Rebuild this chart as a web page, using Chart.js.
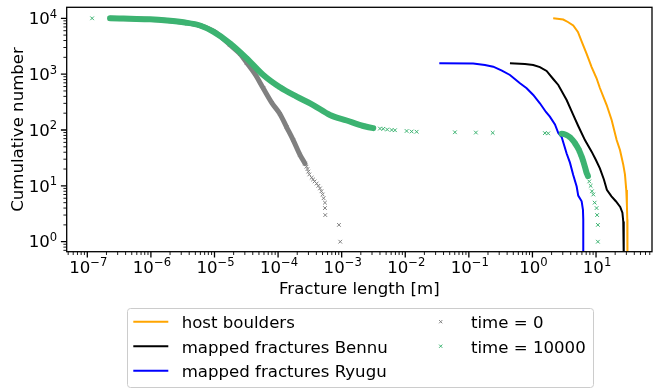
<!DOCTYPE html>
<html>
<head>
<meta charset="utf-8">
<script src="https://cdn.jsdelivr.net/npm/chart.js@4.4.1/dist/chart.umd.min.js"></script>
<style>
  html, body { margin: 0; padding: 0; background: #fff; }
</style>
</head>
<body>
<canvas id="myChart" width="653" height="388"></canvas>
<script>
// ---- data ----
const xTickExps = [-7, -6, -5, -4, -3, -2, -1, 0, 1];
const yTickExps = [0, 1, 2, 3, 4];
const xRange = [4.74e-8, 75.9];
const yRange = [0.662, 15740];

const hostX = [2.12, 3.05, 3.61, 4.38, 5.19, 6.00, 7.12, 8.53, 10.2, 11.5, 14.7, 17.6, 21.1, 23.8, 26.8, 28.5, 29.9, 30.6, 31.0, 31.2, 31.2];
const hostN = [10000, 9520, 8590, 7430, 5690, 3760, 2300, 1340, 843, 565, 280, 151, 66, 44, 24, 16, 8.4, 4.5, 2.5, 1, 0.5];

const bennuX = [0.443, 0.762, 1.03, 1.31, 1.67, 2.12, 2.55, 3.45, 4.38, 5.25, 6.69, 8.53, 9.96, 11.5, 13.3, 14.8, 17.5, 20.5, 24.0, 26.0, 26.8, 27.3, 27.3];
const bennuN = [1560, 1520, 1460, 1340, 1140, 819, 640, 344, 186, 118, 66, 41, 29, 20.6, 13, 8.5, 6.5, 5.3, 4.2, 3.3, 2.3, 1, 0.5];

const ryuguX = [0.0343, 0.117, 0.179, 0.242, 0.331, 0.443, 0.637, 0.811, 1.03, 1.31, 1.63, 1.88, 2.26, 2.55, 2.88, 3.45, 3.89, 4.38, 4.96, 5.25, 5.94, 6.23, 6.30, 6.30, 6.30];
const ryuguN = [1560, 1550, 1460, 1360, 1160, 966, 686, 558, 424, 301, 210, 173, 126, 88, 75, 38, 26, 15.6, 9.7, 6.7, 5.3, 3.7, 2.5, 1, 0.5];

const time0X = [2.28e-7, 4.69e-7, 9.7e-7, 1.79e-6, 3.43e-6, 5.92e-6, 1.02e-5, 1.75e-5, 2.52e-5, 3.21e-5, 4.34e-5, 5.85e-5, 8.02e-5, 1.07e-4, 1.36e-4, 1.73e-4, 2.21e-4, 2.65e-4,
                2.8e-4, 2.9e-4, 2.99e-4, 3.1e-4, 3.37e-4, 3.55e-4, 3.75e-4, 4.04e-4, 4.3e-4, 4.56e-4, 4.8e-4, 5.02e-4, 5.2e-4, 5.46e-4, 5.46e-4, 5.52e-4, 9.06e-4, 9.5e-4];
const time0N = [10000, 9800, 9520, 9140, 8380, 7380, 5650, 3350, 2300, 1600, 1000, 558, 304, 194, 113, 66, 36, 25,
                22, 20, 18, 16, 14, 13, 12, 11, 10, 9, 8, 7, 6, 5, 4, 3, 2, 1];

const time1X = [1.19e-7, 2.28e-7, 4.69e-7, 9.7e-7, 1.79e-6, 3.43e-6, 5.92e-6, 9.57e-6, 1.75e-5, 3.21e-5, 5.85e-5, 1.07e-4, 1.96e-4, 3.57e-4, 6.54e-4, 1.2e-3, 2.19e-3, 3.14e-3,
                4.0e-3, 4.51e-3, 5.2e-3, 6.11e-3, 6.89e-3, 1.05e-2, 1.26e-2, 1.51e-2, 6.04e-2, 0.129, 0.237, 1.57, 1.77,
                2.88, 3.05, 3.45, 3.89, 4.29, 4.67, 5.06, 5.44, 5.79, 6.15, 6.46, 6.76, 7.12, 7.46, 7.82, 8.23, 8.63, 9.06, 9.52, 10.2, 10.4, 10.7, 10.7];
const time1N = [10000, 9999, 9800, 9600, 9140, 8410, 7430, 5760, 3570, 1920, 966, 582, 395, 280, 186, 148, 118, 108,
                106, 105, 102, 100, 99, 96, 94, 93, 91, 90, 89, 88, 87,
                86, 85, 81, 74, 66, 58, 50, 43, 36, 30, 25, 21, 17, 15, 12, 10, 8, 7, 5, 4, 3, 2, 1];

const FONT = '"DejaVu Sans", sans-serif';
const COLORS = { host: '#FFA500', bennu: '#000000', ryugu: '#0000FF', t0: '#808080', t1: '#3CB371' };

function toPoints(xs, ys) {
  return xs.map((x, i) => ({ x: x, y: ys[i] }));
}

// dense runs of markers are drawn as a thick band between the points
function bandColor(color, ranges) {
  return ctx => {
    const x0 = ctx.p0.parsed.x, x1 = ctx.p1.parsed.x;
    return ranges.some(r => x0 >= r[0] && x1 <= r[1]) ? color : 'rgba(0,0,0,0)';
  };
}

function scatterSet(label, xs, ys, color, width, ranges) {
  return {
    label: label,
    data: toPoints(xs, ys),
    showLine: true,
    cubicInterpolationMode: 'monotone',
    borderColor: color,
    borderWidth: width,
    borderCapStyle: 'round',
    borderJoinStyle: 'round',
    segment: { borderColor: bandColor(color, ranges) },
    pointStyle: 'crossRot',
    pointRadius: 2.6,
    pointBorderWidth: 1,
    pointBorderColor: color,
    pointBackgroundColor: color
  };
}

function lineSet(label, xs, ys, color) {
  return {
    label: label,
    data: toPoints(xs, ys),
    showLine: true,
    borderColor: color,
    borderWidth: 2,
    pointRadius: 0,
    tension: 0
  };
}

function drawPow(ctx, exp, x, y, align) {
  const base = '10';
  const sup = exp < 0 ? '\u2212' + Math.abs(exp) : String(exp);
  ctx.font = '16.6px ' + FONT;
  const wb = ctx.measureText(base).width;
  ctx.font = '11.6px ' + FONT;
  const ws = ctx.measureText(sup).width;
  const total = wb + ws;
  let left = align === 'center' ? x - total / 2 : x - total;
  ctx.textAlign = 'left';
  ctx.textBaseline = 'alphabetic';
  ctx.font = '16.6px ' + FONT;
  ctx.fillText(base, left, y);
  ctx.font = '11.6px ' + FONT;
  ctx.fillText(sup, left + wb, y - 6.3);
}

const axesPlugin = {
  id: 'mplAxes',
  afterDraw(chart) {
    const ctx = chart.ctx;
    const a = chart.chartArea;
    const xs = chart.scales.x, ys = chart.scales.y;
    ctx.save();
    ctx.fillStyle = '#000';
    ctx.strokeStyle = '#000';

    // minor ticks
    ctx.lineWidth = 0.9;
    ctx.beginPath();
    for (let e = -8; e <= 4; e++) {
      for (let m = 2; m <= 9; m++) {
        const v = m * Math.pow(10, e);
        if (v > xRange[0] && v < xRange[1]) {
          const px = xs.getPixelForValue(v);
          ctx.moveTo(px, a.bottom); ctx.lineTo(px, a.bottom + 3.3);
        }
        if (v > yRange[0] && v < yRange[1]) {
          const py = ys.getPixelForValue(v);
          ctx.moveTo(a.left, py); ctx.lineTo(a.left - 3.3, py);
        }
      }
    }
    ctx.stroke();

    // major ticks + labels
    ctx.lineWidth = 1.3;
    ctx.beginPath();
    xTickExps.forEach(e => {
      const px = xs.getPixelForValue(Math.pow(10, e));
      ctx.moveTo(px, a.bottom); ctx.lineTo(px, a.bottom + 5.8);
    });
    yTickExps.forEach(e => {
      const py = ys.getPixelForValue(Math.pow(10, e));
      ctx.moveTo(a.left, py); ctx.lineTo(a.left - 5.8, py);
    });
    ctx.stroke();

    xTickExps.forEach(e => {
      const px = xs.getPixelForValue(Math.pow(10, e));
      drawPow(ctx, e, px + 1, a.bottom + 21, 'center');
    });
    yTickExps.forEach(e => {
      const py = ys.getPixelForValue(Math.pow(10, e));
      drawPow(ctx, e, a.left - 9.5, py + 5.8, 'right');
    });

    // frame
    ctx.lineWidth = 1.3;
    ctx.strokeRect(a.left, a.top, a.right - a.left, a.bottom - a.top);

    // axis titles
    ctx.font = '16.6px ' + FONT;
    ctx.textAlign = 'center';
    ctx.textBaseline = 'alphabetic';
    ctx.fillText('Fracture length [m]', (a.left + a.right) / 2, 293.5);
    ctx.save();
    ctx.translate(22.5, (a.top + a.bottom) / 2);
    ctx.rotate(-Math.PI / 2);
    ctx.fillText('Cumulative number', 0, 0);
    ctx.restore();

    // legend (two columns, column-major like matplotlib)
    const lx = 127.5, ly = 308.5, lw = 466, lh = 79;
    ctx.beginPath();
    ctx.roundRect(lx, ly, lw, lh, 3);
    ctx.fillStyle = 'rgba(255,255,255,0.8)';
    ctx.fill();
    ctx.strokeStyle = '#cccccc';
    ctx.lineWidth = 1;
    ctx.stroke();

    const rowBase = [328.3, 352.8, 377.3];
    const items = [
      { col: 0, row: 0, ds: 2 },
      { col: 0, row: 1, ds: 3 },
      { col: 0, row: 2, ds: 4 },
      { col: 1, row: 0, ds: 1 },
      { col: 1, row: 1, ds: 0 }
    ];
    items.forEach(it => {
      const ds = chart.data.datasets[it.ds];
      const base = rowBase[it.row];
      const cy = base - 6.6;
      ctx.strokeStyle = ds.borderColor;
      if (it.col === 0) {
        ctx.lineWidth = 2;
        ctx.beginPath();
        ctx.moveTo(133.3, cy); ctx.lineTo(168.3, cy);
        ctx.stroke();
      } else {
        const mx = 440.7, r = 1.6;
        ctx.lineWidth = 1;
        ctx.beginPath();
        ctx.moveTo(mx - r, cy - r); ctx.lineTo(mx + r, cy + r);
        ctx.moveTo(mx - r, cy + r); ctx.lineTo(mx + r, cy - r);
        ctx.stroke();
      }
      ctx.fillStyle = '#000';
      ctx.font = '16.6px ' + FONT;
      ctx.textAlign = 'left';
      ctx.fillText(ds.label, it.col === 0 ? 181.7 : 471, base);
    });
    ctx.restore();
  }
};

const data = {
  datasets: [
    scatterSet('time = 10000', time1X, time1N, COLORS.t1, 6, [[2e-7, 3.2e-3], [2.8, 7.5]]),
    scatterSet('time = 0', time0X, time0N, COLORS.t0, 5, [[2e-7, 2.7e-4]]),
    lineSet('host boulders', hostX, hostN, COLORS.host),
    lineSet('mapped fractures Bennu', bennuX, bennuN, COLORS.bennu),
    lineSet('mapped fractures Ryugu', ryuguX, ryuguN, COLORS.ryugu)
  ]
};

const config = {
  type: 'scatter',
  data: data,
  options: {
    responsive: false,
    animation: false,
    devicePixelRatio: 1,
    layout: { autoPadding: false, padding: { left: 66.7, top: 7.3, right: 1, bottom: 136.3 } },
    plugins: { legend: { display: false }, tooltip: { enabled: false } },
    scales: {
      x: { type: 'logarithmic', min: xRange[0], max: xRange[1], display: false },
      y: { type: 'logarithmic', min: yRange[0], max: yRange[1], display: false }
    }
  },
  plugins: [axesPlugin]
};

const myChart = new Chart(document.getElementById('myChart').getContext('2d'), config);
</script>
</body>
</html>
